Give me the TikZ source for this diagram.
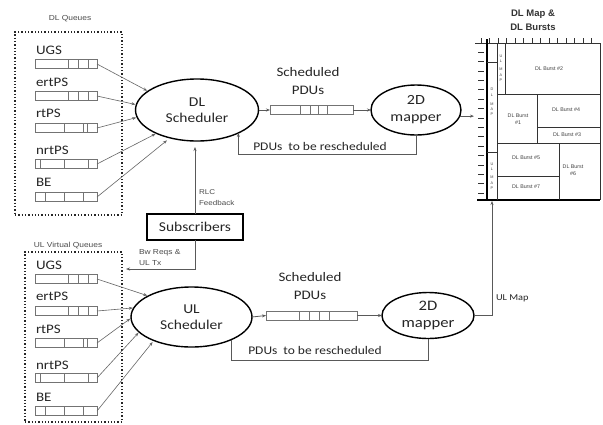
\documentclass[tikz,border=0pt]{standalone}
\usepackage{fontspec}
\setmainfont{Carlito}[FakeStretch=1.15]
\newfontfamily\smallf{Liberation Sans}[FakeStretch=1.15]
\newfontfamily\mapf{Liberation Sans}
\usetikzlibrary{arrows.meta,shapes.geometric,calc}
\begin{document}
\begin{tikzpicture}[x=1pt,y=-1pt,
 every node/.style={inner sep=0pt, outer sep=0pt, text=black!85},
 sched/.style={ellipse, draw=black, line width=1.4pt, align=center, font=\fontsize{13.5}{16}\selectfont},
 qbar/.style={draw=black!55, line width=0.7pt, minimum width=62pt, minimum height=9pt},
 pbar/.style={draw=black!55, line width=0.7pt, minimum height=9pt},
 divider/.style={draw=black!55, line width=0.7pt},
 qlabel/.style={anchor=west, font=\fontsize{13}{15}\selectfont},
 dbox/.style={draw=black!85, line width=1.3pt, dotted},
 tip/.style={-{Stealth[length=4pt,width=3pt]}},
 qarrow/.style={draw=black!60, line width=0.6pt, tip, shorten >=1pt},
 conn/.style={draw=black!65, line width=0.8pt},
 small/.style={font=\smallf\fontsize{7.3}{9}\selectfont, text=black!70},
 mapline/.style={draw=black!80, line width=0.6pt},
 mapt/.style={font=\mapf\fontsize{5.3}{7}\selectfont, align=center, text=black!75},
 colt/.style={font=\mapf\fontsize{3.8}{5.2}\selectfont, align=center, text=black!75},
]
\useasboundingbox[fill=white] (0,0) rectangle (603,424);

% ---------- boxes ----------
\node[dbox, minimum width=107pt, minimum height=183pt] (dlbox) at (68.5,123.5) {};
\node[small] (dlql) at (70,19) {DL Queues};
\node[dbox, minimum width=97pt, minimum height=170pt] (ulbox) at (73.5,337) {};
\node[small] (ulql) at (68,246) {UL Virtual Queues};

% ---------- DL queues ----------
\node[qlabel] (dl1) at (36,50) {UGS};
\node[qlabel] (dl2) at (36,82) {ertPS};
\node[qlabel] (dl3) at (36,113) {rtPS};
\node[qlabel] (dl4) at (36,150) {nrtPS};
\node[qlabel] (dl5) at (36,182) {BE};
\node[qbar] (dq1) at (66,64) {};
\node[qbar] (dq2) at (66,96) {};
\node[qbar] (dq3) at (66,128) {};
\node[qbar] (dq4) at (66,164) {};
\node[qbar] (dq5) at (66,197) {};

% ---------- UL queues ----------
\node[qlabel] (ul1) at (36,265) {UGS};
\node[qlabel] (ul2) at (36,296) {ertPS};
\node[qlabel] (ul3) at (36,329) {rtPS};
\node[qlabel] (ul4) at (36,365) {nrtPS};
\node[qlabel] (ul5) at (36,397) {BE};
\node[qbar] (uq1) at (66,279) {};
\node[qbar] (uq2) at (66,311) {};
\node[qbar] (uq3) at (66,343) {};
\node[qbar] (uq4) at (66,378) {};
\node[qbar] (uq5) at (66,411) {};

\foreach \y/\xs in {64/{68,78,88},96/{68,78,88},128/{64,83,87},164/{40,64,88},197/{45,64,83},
                    279/{68,78,88},311/{68,78,88},343/{64,83,87},378/{40,64,88},411/{45,64,83}}{
  \foreach \x in \xs {\draw[divider] (\x,\y-4.5) -- (\x,\y+4.5);}
}

% ---------- schedulers and mappers ----------
\node[sched, minimum width=123pt, minimum height=62pt] (dls) at (197,110) {DL\\Scheduler};
\node[sched, minimum width=121pt, minimum height=60pt] (uls) at (191.5,317) {UL\\Scheduler};
\node[sched, minimum width=90pt, minimum height=50pt, font=\fontsize{14}{17}\selectfont] (dlm) at (416,110) {2D\\mapper};
\node[sched, minimum width=92pt, minimum height=46pt, font=\fontsize{14.5}{17}\selectfont] (ulm) at (428,315.5) {2D\\mapper};

% ---------- scheduled PDU queues ----------
\node[pbar, minimum width=83pt] (dlq) at (311.5,110) {};
\node[pbar, minimum width=91pt] (ulq) at (311.5,315.5) {};
\foreach \x in {300,310,318,327} {\draw[divider] (\x,105.5) -- (\x,114.5);}
\foreach \x in {299,309,319,329} {\draw[divider] (\x,311) -- (\x,320);}
\node[align=center, font=\fontsize{13}{18}\selectfont] (dlsp) at (308,81) {Scheduled\\PDUs};
\node[align=center, font=\fontsize{13}{18}\selectfont] (ulsp) at (310,286) {Scheduled\\PDUs};

\draw[conn, tip] (dls.east) -- (dlq.west);
\draw[conn, tip] (dlq.east) -- (dlm.west);
\draw[conn, tip] (uls.east) -- (ulq.west);
\draw[conn, tip] (ulq.east) -- (ulm.west);

% ---------- rescheduling loops ----------
\draw[conn, tip] (dlm.south) -- ++(0,19) -| (dls.-29);
\node[font=\fontsize{11.7}{13}\selectfont] (dlres) at (320,146.5) {PDUs\ \ to be rescheduled};
\draw[conn] (ulm.south) -- ++(0,22) -| (uls.-30);
\node[font=\fontsize{11.7}{13}\selectfont] (ulres) at (315,350) {PDUs\ \ to be rescheduled};

% ---------- queue arrows ----------
\draw[qarrow] (dq1.east) -- (dls.159);
\draw[qarrow] (dq2.east) -- (dls.175);
\draw[qarrow] (dq3.east) -- (dls.187);
\draw[qarrow] (dq4.east) -- (dls.210);
\draw[qarrow, shorten >=4pt] (dq5.east) -- (dls.226);
\draw[qarrow] (uq1.east) -- (uls.154);
\draw[qarrow] (uq2.east) -- (uls.171);
\draw[qarrow] (uq3.east) -- (uls.181);
\draw[qarrow] (uq4.east) -- (uls.196);
\draw[qarrow, shorten >=2pt] (uq5.east) -- (uls.212);

% ---------- subscribers ----------
\node[draw=black, line width=1.2pt, minimum width=96pt, minimum height=26pt, font=\fontsize{13.5}{16}\selectfont] (sub) at (195,227) {Subscribers};
\draw[conn, tip, shorten >=6pt] (sub.north) -- (sub.north |- dls.south);
\node[small, anchor=west, align=left, font=\smallf\fontsize{7}{11}\selectfont] (rlc) at (199,197.5) {RLC\\Feedback};
\coordinate (bwend) at (126,269);
\draw[conn, tip] (sub.south) |- (bwend);
\node[small, anchor=west, align=left, font=\smallf\fontsize{7.3}{11}\selectfont] (bw) at (139,257.5) {Bw Reqs \&\\UL Tx};

% ---------- DL map & bursts ----------
\node[align=center, font=\mapf\bfseries\fontsize{9.5}{14}\selectfont, text=black!80] (mapttl) at (533,20) {DL Map \&\\DL Bursts};

\coordinate (mapin) at (474,0);
\coordinate (mapbot) at (492,201);
\draw[conn, tip] (dlm.-8) -- (dlm.-8 -| mapin);
\draw[conn, tip] (ulm.east) -| (mapbot);
\node[anchor=west, font=\fontsize{9}{11}\selectfont] (ulmapl) at (496,298) {UL Map};

% frame
\draw[mapline] (475,43) -- (600,43) -- (600,200);
\draw[draw=black, line width=1.1pt] (477,200) -- (600,200);
\draw[draw=black, line width=1.1pt] (487,39) -- (487,200);
\foreach \i in {0,...,13} {\draw[mapline, line width=0.5pt] (481+8.5*\i,38) -- (481+8.5*\i,43);}
\foreach \i in {0,...,15} {\draw[mapline, line width=0.5pt] (478,52+9.4*\i) -- (484,52+9.4*\i);}
% columns
\draw[mapline] (497,43) -- (497,200);
\draw[mapline] (487,62) -- (497,62);
\draw[mapline] (487,152) -- (497,152);
\draw[mapline] (505,43) -- (505,94);
\draw[mapline] (497,94) -- (600,94);
\draw[mapline] (537,94) -- (537,143);
\draw[mapline] (537,127) -- (600,127);
\draw[mapline] (497,143) -- (600,143);
\draw[mapline] (559,143) -- (559,200);
\draw[mapline] (497,176) -- (559,176);
% texts
\node[colt] (ulmap1) at (501,68) {U\\L\\[3pt]M\\A\\P};
\node[colt] (dlmap) at (492,102) {D\\L\\[4pt]M\\A\\P};
\node[colt] (ulmap2) at (492,176) {U\\L\\[3pt]M\\A\\P};
\node[mapt] (b2) at (549,69) {DL Burst \#2};
\node[mapt] (b4) at (566,110) {DL Burst \#4};
\node[mapt] (b3) at (567,135) {DL Burst \#3};
\node[mapt] (b1) at (518,119) {DL Burst\\\#1};
\node[mapt] (b5) at (526,158) {DL Burst \#5};
\node[mapt] (b7) at (526,187) {DL Burst \#7};
\node[mapt] (b6) at (573,170) {DL Burst\\\#6};
\end{tikzpicture}
\end{document}
